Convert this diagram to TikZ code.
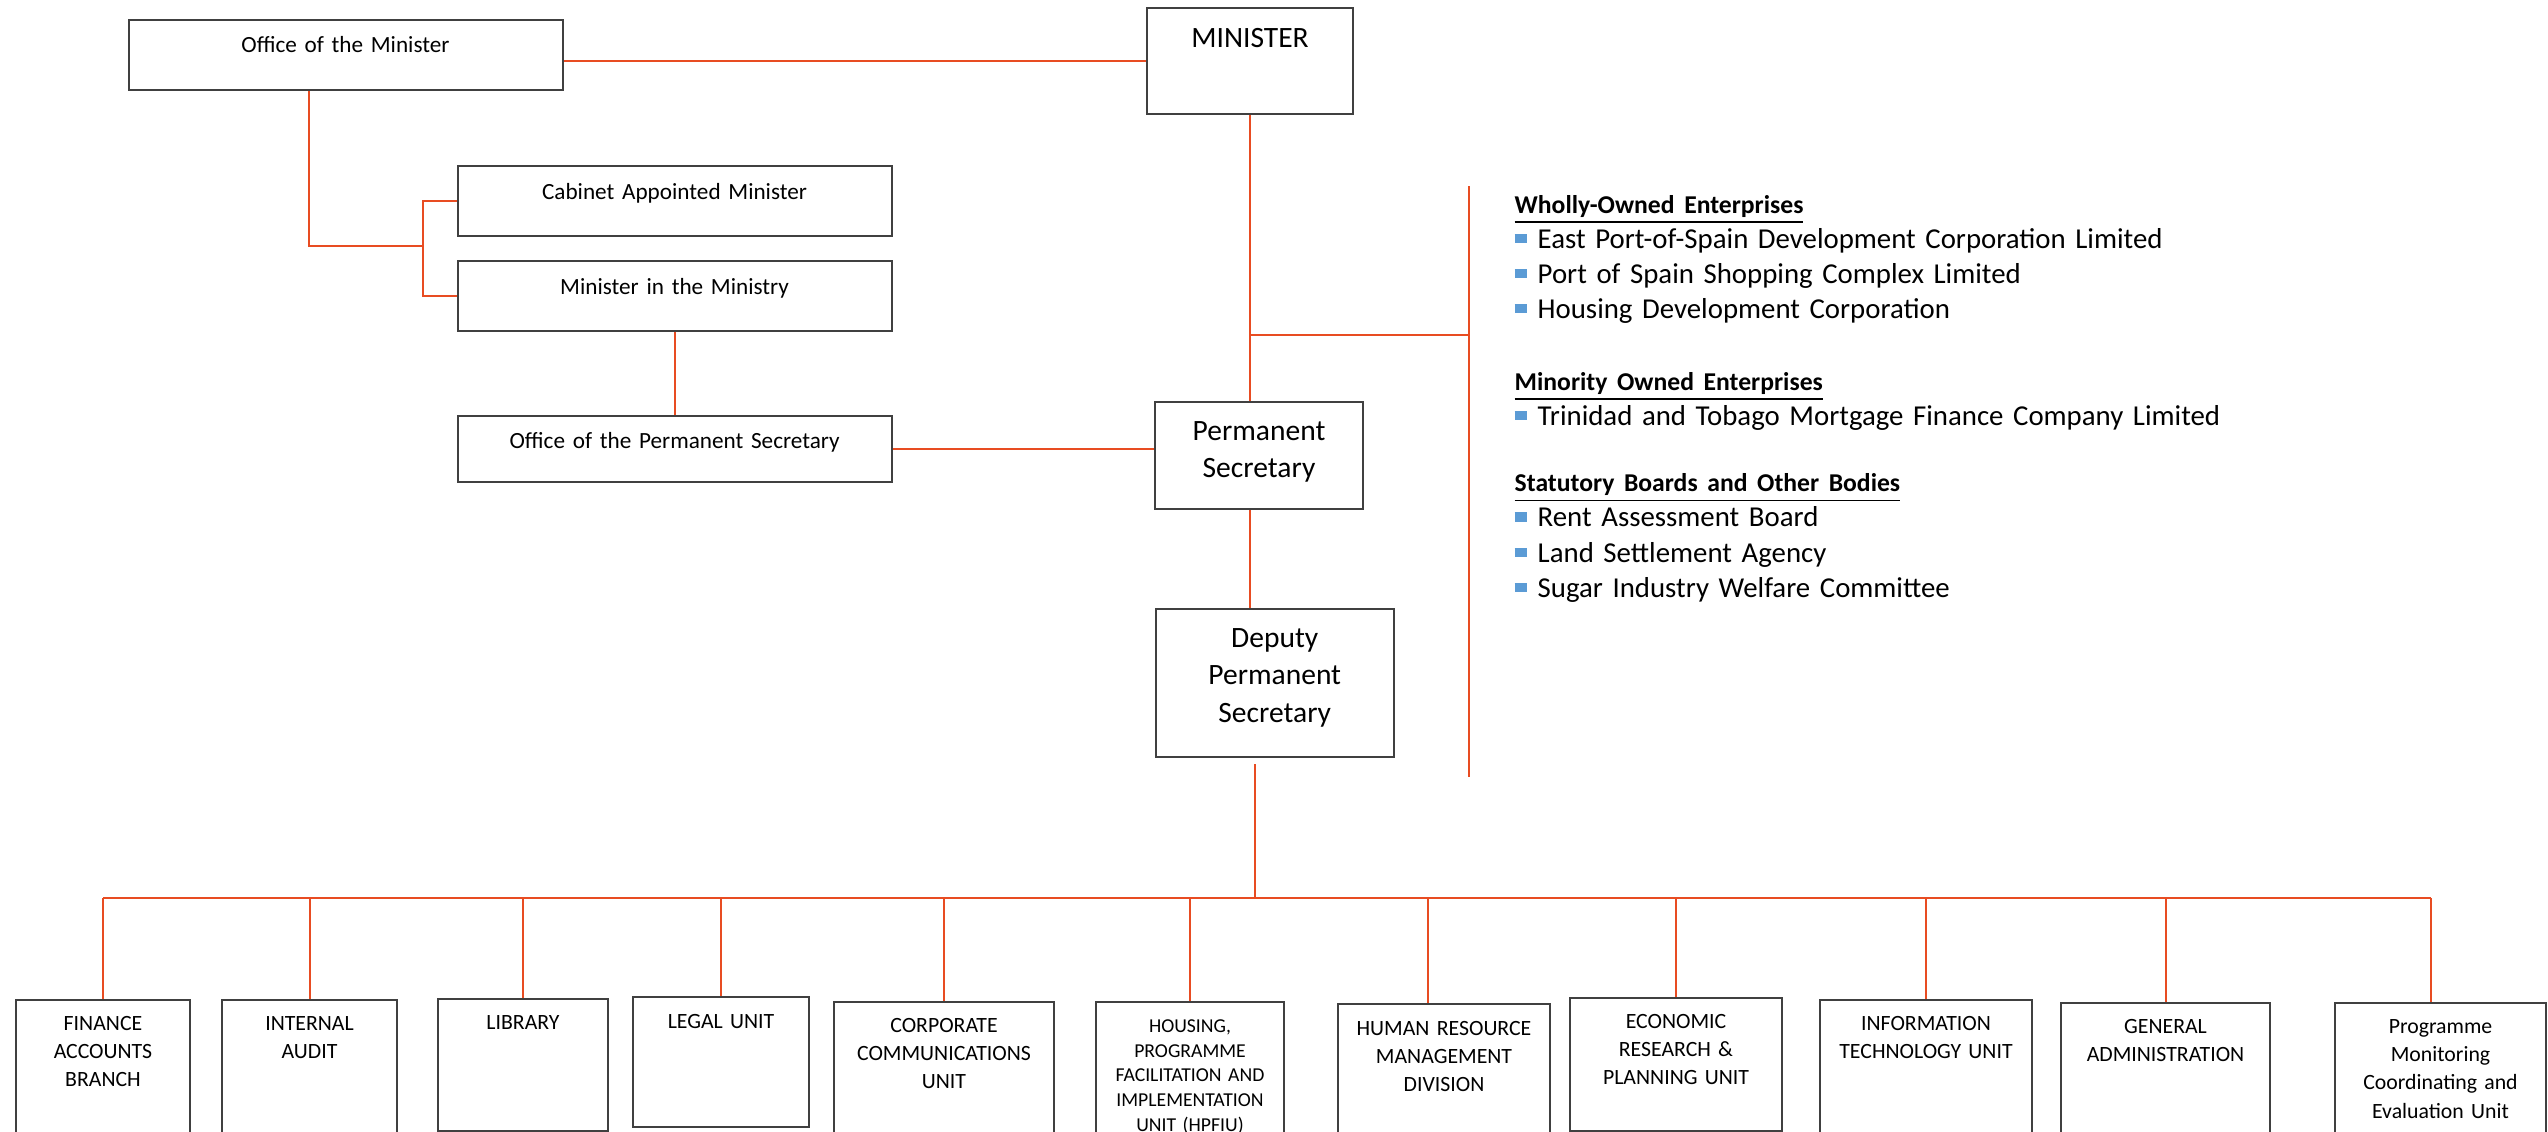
\documentclass[tikz,border=0pt]{standalone}
\usepackage{fontspec}
\setmainfont{Carlito}
\definecolor{myorange}{HTML}{E84C22}
\definecolor{myblue}{HTML}{5B9BD5}
\definecolor{mygray}{HTML}{404040}
\usepackage{tikz}

\newcommand{\topfont}{\fontsize{8.4}{10}\selectfont}
\newcommand{\secfont}{\fontsize{8.4}{10.6}\selectfont}
\newcommand{\boxfont}{\fontsize{6.6}{8}\selectfont}
\newcommand{\unitfont}{\fontsize{6.2}{8}\selectfont}
\newcommand{\hpffont}{\fontsize{5.6}{7}\selectfont}
\newcommand{\listfont}{\fontsize{8.2}{10}\selectfont}
\newcommand{\headfont}{\fontsize{7.3}{10}\selectfont\bfseries}
\newcommand{\sqbullet}{{\color{myblue}\rule[0.5mm]{1.2mm}{0.95mm}}\hspace{1.1mm}}

\tikzset{
  orgbox/.style={draw=mygray, line width=0.2mm, anchor=north west, align=center, inner sep=0pt},
  link/.style={draw=myorange, line width=0.2mm},
  listnode/.style={anchor=base west, align=left, text width=80mm, inner sep=0pt, font=\listfont}
}

\begin{document}
\begin{tikzpicture}
        \useasboundingbox (0,0) rectangle (254.8mm,-113.1mm);

        % Minister level
        \node[orgbox, text width=43.4mm, text height=3.24mm, text depth=3.76mm, font=\boxfont] (om) at (12.75mm,-1.93mm) {Office of the Minister};
        \node[orgbox, text width=20.6mm, text height=3.94mm, text depth=6.66mm, font=\topfont] (min) at (114.6mm,-0.73mm) {MINISTER};
        \node[orgbox, text width=43.4mm, text height=3.36mm, text depth=3.64mm, font=\boxfont] (cam) at (45.66mm,-16.47mm) {Cabinet Appointed Minister};
        \node[orgbox, text width=43.4mm, text height=3.36mm, text depth=3.64mm, font=\boxfont] (mim) at (45.66mm,-25.97mm) {Minister in the Ministry};
        \node[orgbox, text width=43.4mm, text height=3.3mm, text depth=3.3mm, font=\boxfont] (ops) at (45.66mm,-41.47mm) {Office of the Permanent Secretary};

        % Secretaries
        \node[orgbox, text width=20.8mm, text height=3.86mm, text depth=6.9mm, font=\secfont] (ps) at (115.4mm,-40.07mm) {Permanent\\Secretary};
        \node[orgbox, text width=23.8mm, text height=3.87mm, text depth=10.93mm, font=\secfont] (dps) at (115.47mm,-60.8mm) {Deputy\\Permanent\\Secretary};

        % State enterprises
        \node[listnode] (woe) at (151.4mm,-21.3mm) {{\headfont\underline{Wholly-Owned Enterprises}}\\
            \sqbullet East Port-of-Spain Development Corporation Limited\\
            \sqbullet Port of Spain Shopping Complex Limited\\
            \sqbullet Housing Development Corporation};
        \node[listnode] (moe) at (151.4mm,-39.0mm) {{\headfont\underline{Minority Owned Enterprises}}\\
            \sqbullet Trinidad and Tobago Mortgage Finance Company Limited};
        \node[listnode] (sbb) at (151.4mm,-49.17mm) {{\headfont\underline{Statutory Boards and Other Bodies}}\\
            \sqbullet Rent Assessment Board\\
            \sqbullet Land Settlement Agency\\
            \sqbullet Sugar Industry Welfare Committee};

        % Units
        \node[orgbox, text width=17.4mm, text height=3.0mm, text depth=11mm, font=\unitfont] (fin) at (1.5mm,-99.9mm) {FINANCE\\ACCOUNTS\\BRANCH};
        \node[orgbox, text width=17.5mm, text height=3.0mm, text depth=11mm, font=\unitfont] (ia) at (22.1mm,-99.9mm) {INTERNAL\\AUDIT};
        \node[orgbox, text width=17.0mm, text height=3.0mm, text depth=10.2mm, font=\unitfont] (lib) at (43.7mm,-99.83mm) {LIBRARY};
        \node[orgbox, text width=17.6mm, text height=3.1mm, text depth=9.9mm, font=\unitfont] (leg) at (63.2mm,-99.6mm) {LEGAL UNIT};
        \node[orgbox, text width=22.0mm, text height=3.07mm, text depth=11mm, font=\unitfont] (ccu) at (83.3mm,-100.1mm) {CORPORATE\\COMMUNICATIONS\\UNIT};
        \node[orgbox, text width=18.8mm, text height=3.07mm, text depth=11mm, font=\hpffont] (hpf) at (109.5mm,-100.1mm) {HOUSING,\\PROGRAMME\\FACILITATION AND\\IMPLEMENTATION\\UNIT (HPFIU)};
        \node[orgbox, text width=21.2mm, text height=3.1mm, text depth=11mm, font=\unitfont] (hrm) at (133.7mm,-100.3mm) {HUMAN RESOURCE\\MANAGEMENT\\DIVISION};
        \node[orgbox, text width=21.2mm, text height=3.0mm, text depth=10.3mm, font=\unitfont] (erp) at (156.9mm,-99.7mm) {ECONOMIC\\RESEARCH \&\\PLANNING UNIT};
        \node[orgbox, text width=21.2mm, text height=3.0mm, text depth=11mm, font=\unitfont] (itu) at (181.9mm,-99.9mm) {INFORMATION\\TECHNOLOGY UNIT};
        \node[orgbox, text width=20.9mm, text height=3.0mm, text depth=11mm, font=\unitfont] (gad) at (206.0mm,-100.2mm) {GENERAL\\ADMINISTRATION};
        \node[orgbox, text width=21.1mm, text height=3.07mm, text depth=11mm, font=\unitfont] (pme) at (233.4mm,-100.2mm) {Programme\\Monitoring\\Coordinating and\\Evaluation Unit};

        % Links
        \coordinate (omfoot) at (30.9mm,-24.57mm);
        \coordinate (split) at (42.33mm,-24.57mm);
        \coordinate (rjoin) at (146.9mm,-33.45mm);
        \coordinate (rtop) at (146.9mm,-18.6mm);
        \coordinate (rbot) at (146.9mm,-77.7mm);
        \coordinate (hub) at (125.5mm,-89.8mm);
        \coordinate (hrmdrop) at (142.8mm,-89.8mm);
        \coordinate (pmedrop) at (243.1mm,-89.8mm);

        \draw[link] (min.west) -- (min.west -| om.east);
        \draw[link] (om.south -| omfoot) -- (omfoot) -- (split);
        \draw[link] (cam.west) -| (split) |- (mim.west);
        \draw[link] (mim.south) -- (ops.north);
        \draw[link] (ops.east) -- (ops.east -| ps.west);
        \draw[link] (min.south) -- (min.south |- ps.north);
        \draw[link] (rjoin -| min.south) -- (rjoin);
        \draw[link] (rtop) -- (rbot);
        \draw[link] (ps.south -| min.south) -- (dps.north -| min.south);
        \draw[link, shorten <=0.6mm] (hub |- dps.south) -- (hub);

        % Bus to units
        \draw[link] (fin.north |- hub) -- (pmedrop);
        \draw[link] (fin.north |- hub) -- (fin.north);
        \draw[link] (ia.north |- hub) -- (ia.north);
        \draw[link] (lib.north |- hub) -- (lib.north);
        \draw[link] (leg.north |- hub) -- (leg.north);
        \draw[link] (ccu.north |- hub) -- (ccu.north);
        \draw[link] (hpf.north |- hub) -- (hpf.north);
        \draw[link] (hrmdrop) -- (hrmdrop |- hrm.north);
        \draw[link] (erp.north |- hub) -- (erp.north);
        \draw[link] (itu.north |- hub) -- (itu.north);
        \draw[link] (gad.north |- hub) -- (gad.north);
        \draw[link] (pmedrop) -- (pmedrop |- pme.north);
\end{tikzpicture}
\end{document}
